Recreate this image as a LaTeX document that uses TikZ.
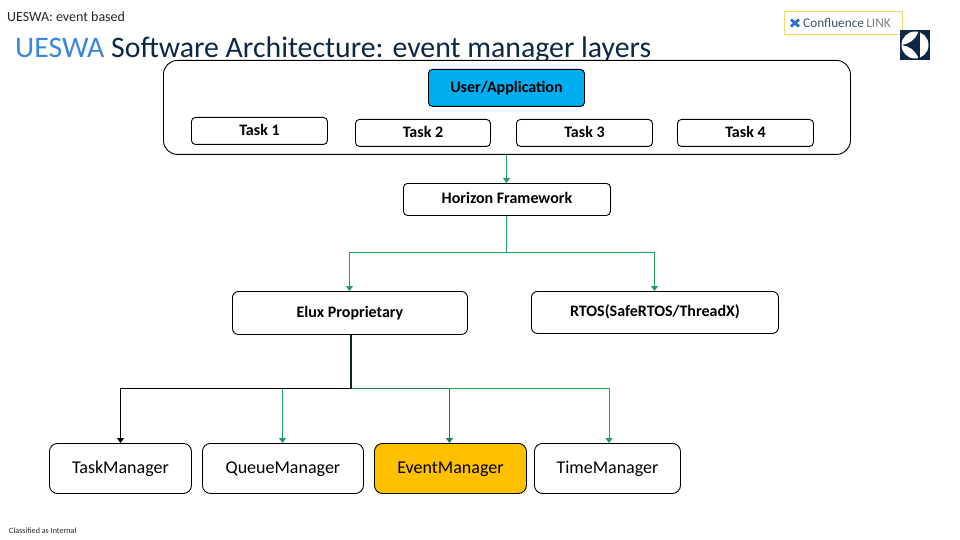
\documentclass[tikz,border=0pt]{standalone}
\usepackage{fontspec}
\setmainfont{Carlito}
\usetikzlibrary{arrows.meta}
\definecolor{grn}{HTML}{1E9E5A}
\definecolor{navy}{HTML}{0F2747}
\definecolor{titleblue}{HTML}{3C85E0}
\definecolor{skyb}{HTML}{00AEEF}
\definecolor{amber}{HTML}{FFC000}
\definecolor{cgold}{HTML}{F5D76E}
\definecolor{cblue}{HTML}{2F6FD0}
\tikzset{
  x=1pt,y=-1pt,
  boxn/.style={draw=black,line width=0.9pt,rounded corners=#1,fill=white,inner sep=0,align=center},
  boxn/.default=4pt,
  bold14/.style={font=\fontsize{16}{18}\selectfont\bfseries,text height=10.5pt,text depth=1.5pt},
  reg18/.style={font=\fontsize{18}{20}\selectfont,text height=12pt,text depth=2.6pt},
  arr/.style={-{Triangle[length=5pt,width=7pt]},line width=0.9pt},
  gline/.style={arr,draw=grn,color=grn},
  kline/.style={arr,draw=black,color=black},
}
\newcommand{\bx}[7][]{\node[boxn=#2,#1,minimum width=#5pt,minimum height=#6pt,anchor=north west] (#3) at #4 {#7};}
\begin{document}
\begin{tikzpicture}
\useasboundingbox (0,0) rectangle (960,540);
\node[anchor=west,inner sep=0,font=\fontsize{14}{16}\selectfont,text=black!85] (hdr) at (7,16.5) {UESWA: event based};
\node[anchor=west,inner sep=0,font=\fontsize{29.8}{32}\selectfont,text=navy] (ttl) at (15,49.5) {\textcolor{titleblue}{UESWA} Software Architecture: event manager layers};
\node[draw=cgold,line width=1pt,minimum width=118pt,minimum height=23pt,anchor=north west,inner sep=0] (conf) at (784,11.5) {};
\node[anchor=west,inner sep=0,font=\fontsize{13.3}{15}\selectfont,text=navy!80] (conft) at (803,22.5) {Confluence\,\textcolor{black!50}{LINK}};
\draw[cblue,line width=2.8pt] (791,19.5) -- (799,26.5) (799,19.5) -- (791,26.5);
\fill[navy] (900,30) rectangle (930,60);
\fill[white] (915,45) circle (13.5pt);
\fill[navy] (918,31) rectangle (919.5,59);
\fill[navy] (918,33) .. controls (915,40) and (909,44) .. (902,45) .. controls (909,46) and (915,50) .. (918,57) -- cycle;
\bx{14pt}{outer}{(163,60)}{687}{94}{}
\bx[fill=skyb,bold14]{4pt}{user}{(428,69)}{156}{37}{User/Application}
\bx[bold14]{4pt}{t1}{(191,117)}{136}{27}{Task 1}
\bx[bold14]{4pt}{t2}{(355,119)}{135}{27}{Task 2}
\bx[bold14]{4pt}{t3}{(516,119)}{136}{27}{Task 3}
\bx[bold14]{4pt}{t4}{(677,119)}{136}{27}{Task 4}
\bx[bold14]{4pt}{hf}{(403,183)}{207}{32}{Horizon Framework}
\bx[bold14]{6pt}{elux}{(232,291)}{235}{43}{Elux Proprietary}
\bx[bold14]{6pt}{rtos}{(531,291)}{247}{42}{RTOS(SafeRTOS/ThreadX)}
\bx[reg18]{8pt}{tm}{(49,443)}{142}{50}{TaskManager}
\bx[reg18]{8pt}{qm}{(202,443)}{161}{50}{QueueManager}
\bx[reg18,fill=amber]{8pt}{em}{(374,443)}{152}{50}{EventManager}
\bx[reg18]{8pt}{ti}{(534,443)}{146}{50}{TimeManager}
\coordinate (j1) at (506.5,252.5);
\coordinate (j2) at (350.5,388.5);
\coordinate (j3) at (449.5,388.5);
\draw[gline] (506.5,0 |- outer.south) -- (506.5,0 |- hf.north);
\draw[draw=grn,line width=0.9pt] (506.5,0 |- hf.south) -- (j1);
\draw[gline] (j1) -| (349.5,0 |- elux.north);
\draw[gline] (j1) -| (654.5,0 |- rtos.north);
\draw[gline] (j3) -| (609,0 |- ti.north);
\draw[gline] (282.5,388.5) -- (282.5,0 |- qm.north);
\draw[gline,draw=grn!80!black,line width=1.3pt] (j3) -- (449.5,0 |- em.north);
\draw[draw=grn!80!black,line width=1.6pt] (j2) -- (j3);
\draw[kline,line width=1.2pt] (j2) -| (120.5,0 |- tm.north);
\draw[draw=black!75!grn,line width=2pt] (350.5,0 |- elux.south) -- (j2);
\node[anchor=west,inner sep=0,font=\fontsize{8.1}{9}\selectfont,text=black!85] (cls) at (9,530.5) {Classified as Internal};
\end{tikzpicture}
\end{document}
